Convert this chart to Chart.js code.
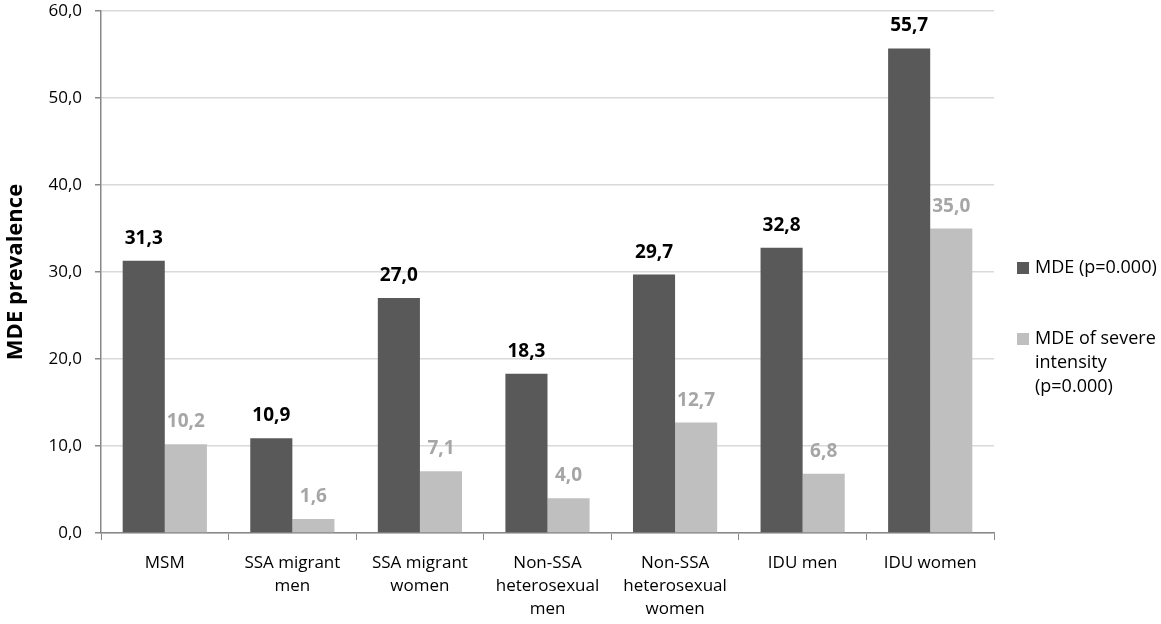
<!DOCTYPE html>
<html>
<head>
<meta charset="utf-8">
<script src="https://cdn.jsdelivr.net/npm/chart.js@4"></script>
<style>
  html, body { margin: 0; padding: 0; background: #fff; }
  #wrap { width: 1161px; height: 624px; position: relative; }
</style>
</head>
<body>
<div id="wrap"><canvas id="mdeChart"></canvas></div>
<script>
const categories = [
  ["MSM"],
  ["SSA migrant", "men"],
  ["SSA migrant", "women"],
  ["Non-SSA", "heterosexual", "men"],
  ["Non-SSA", "heterosexual", "women"],
  ["IDU men"],
  ["IDU women"]
];
const mdeValues = [31.3, 10.9, 27.0, 18.3, 29.7, 32.8, 55.7];
const severeValues = [10.2, 1.6, 7.1, 4.0, 12.7, 6.8, 35.0];
const legendLines = [
  ["MDE (p=0.000)"],
  ["MDE of severe", "intensity", "(p=0.000)"]
];

const FONT = "'Open Sans', 'Noto Sans', sans-serif";
const fmt = v => v.toFixed(1).replace('.', ',');

// value labels above bars
const valueLabels = {
  id: 'valueLabels',
  afterDatasetsDraw(chart) {
    const ctx = chart.ctx;
    ctx.save();
    ctx.font = "bold 19px " + FONT;
    ctx.textAlign = 'center';
    ctx.textBaseline = 'alphabetic';
    chart.data.datasets.forEach((ds, i) => {
      const meta = chart.getDatasetMeta(i);
      ctx.fillStyle = ds.labelColor;
      meta.data.forEach((bar, j) => {
        ctx.fillText(fmt(ds.data[j]), bar.x, bar.y - 17);
      });
    });
    ctx.restore();
  }
};

// legend on the right, wrapped like the original
const sideLegend = {
  id: 'sideLegend',
  afterDraw(chart) {
    const ctx = chart.ctx;
    const x = chart.chartArea.right + 23;
    const centers = [268, 339];
    ctx.save();
    ctx.font = "18px " + FONT;
    ctx.textBaseline = 'middle';
    chart.data.datasets.forEach((ds, i) => {
      ctx.fillStyle = ds.backgroundColor;
      ctx.fillRect(x, centers[i] - 6, 12, 12);
      ctx.fillStyle = '#000';
      legendLines[i].forEach((line, k) => {
        ctx.fillText(line, x + 18, centers[i] + k * 24);
      });
    });
    ctx.restore();
  }
};

new Chart(document.getElementById('mdeChart'), {
  type: 'bar',
  data: {
    labels: categories,
    datasets: [
      { label: legendLines[0].join(' '), data: mdeValues, backgroundColor: '#595959', labelColor: '#000' },
      { label: legendLines[1].join(' '), data: severeValues, backgroundColor: '#bfbfbf', labelColor: '#a6a6a6' }
    ]
  },
  options: {
    responsive: true,
    maintainAspectRatio: false,
    animation: false,
    devicePixelRatio: 1,
    categoryPercentage: 0.66,
    barPercentage: 1.0,
    layout: { padding: { top: 11, right: 167, left: 0, bottom: 0 } },
    plugins: {
      legend: { display: false },
      tooltip: { enabled: false }
    },
    scales: {
      x: {
        afterFit: s => { s.height = 91; s.paddingLeft = 0; s.paddingRight = 0; },
        grid: {
          offset: true,
          drawOnChartArea: false,
          tickLength: 7,
          color: '#888'
        },
        border: { color: '#888', width: 1.5 },
        ticks: {
          color: '#000',
          font: { family: FONT, size: 17, lineHeight: 1.35 },
          maxRotation: 0,
          autoSkip: false,
          padding: 12
        }
      },
      y: {
        afterFit: s => { s.width = 101; s.paddingTop = 0; s.paddingBottom = 0; },
        min: 0,
        max: 60,
        ticks: {
          stepSize: 10,
          color: '#000',
          font: { family: FONT, size: 17 },
          callback: v => fmt(v),
          padding: 13
        },
        grid: {
          color: '#d9d9d9',
          tickColor: '#888',
          tickLength: 6,
          lineWidth: 1.5
        },
        border: { color: '#888', width: 1.5 },
        title: {
          display: true,
          text: 'MDE prevalence',
          color: '#000',
          font: { family: FONT, size: 22, weight: 'bold' },
          padding: { top: 3, bottom: 8 }
        }
      }
    }
  },
  plugins: [valueLabels, sideLegend]
});
</script>
</body>
</html>
